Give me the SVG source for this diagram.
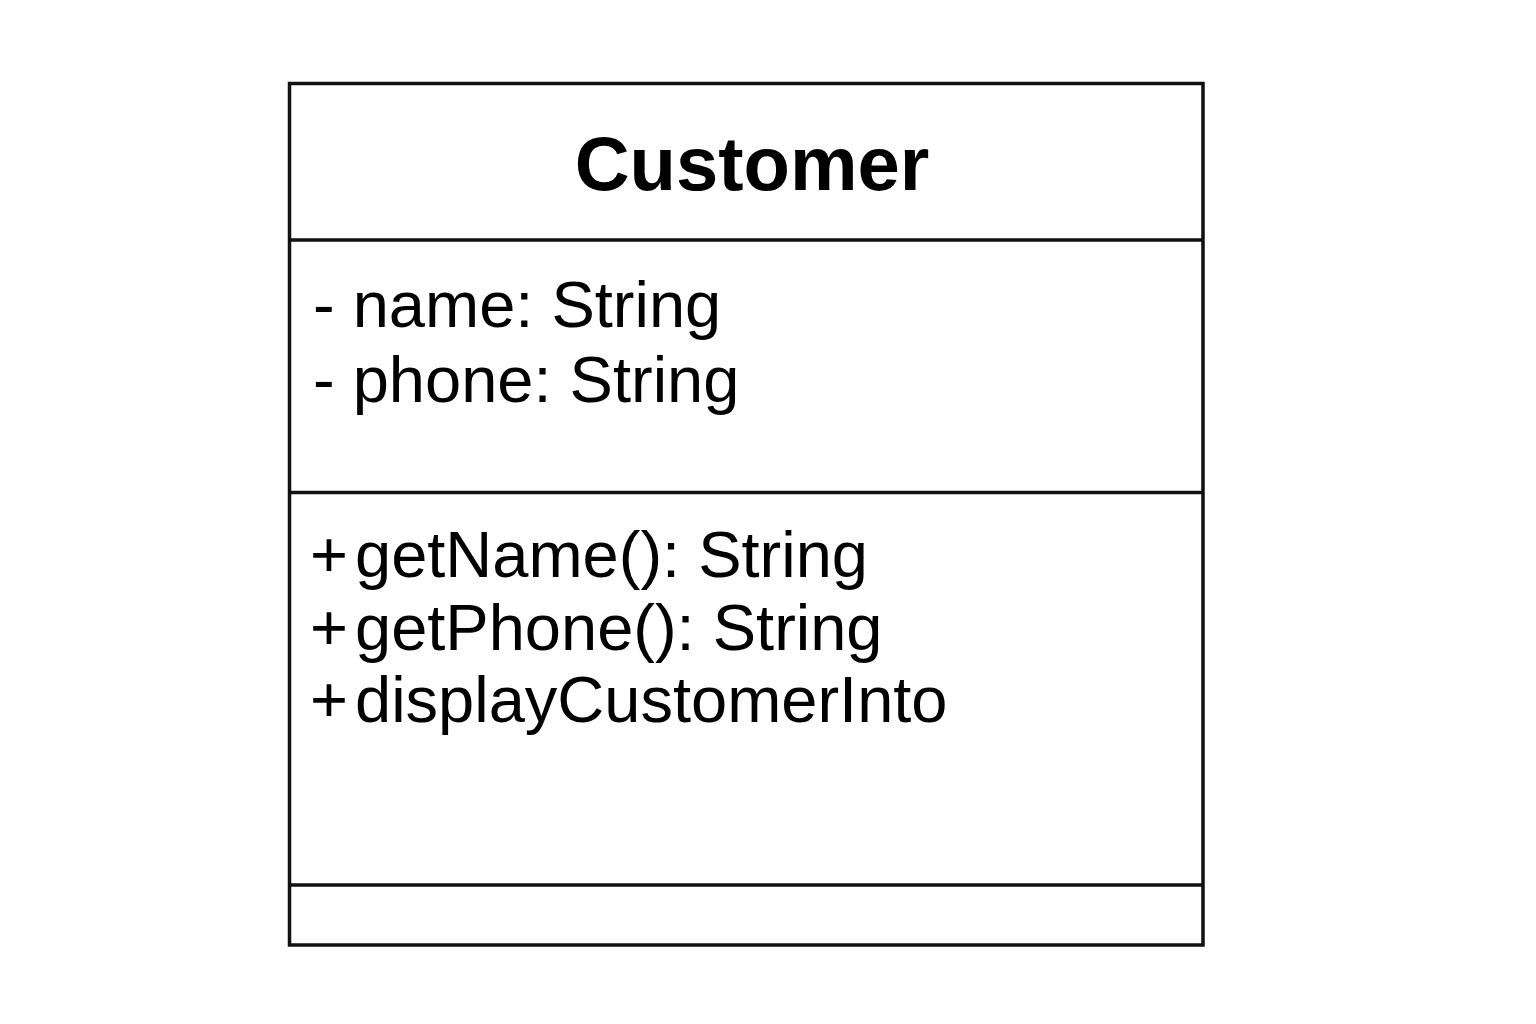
<svg xmlns="http://www.w3.org/2000/svg" width="1536" height="1024" viewBox="0 0 1536 1024">
<style>
.box{fill:#fff;stroke:#111;stroke-width:3.5}
.div{stroke:#111;stroke-width:3.5}
.t{font-family:"Liberation Sans",Arial,sans-serif;fill:#000}
.title{font-size:76px;font-weight:bold}
.m{font-size:65px}
</style>
<rect width="1536" height="1024" fill="#fff"/>
<g id="Customer">
<rect class="box" x="289.5" y="83.5" width="913.5" height="861.5"/>
<line class="div" x1="289.5" y1="240" x2="1203" y2="240"/>
<line class="div" x1="289.5" y1="492.5" x2="1203" y2="492.5"/>
<line class="div" x1="289.5" y1="885" x2="1203" y2="885"/>
<text class="t title" x="752" y="190" text-anchor="middle">Customer</text>
<text class="t m" x="313" y="327">- name: String</text>
<text class="t m" x="313" y="402">- phone: String</text>
<text class="t m" y="577"><tspan x="310">+</tspan><tspan x="355">getName(): String</tspan></text>
<text class="t m" y="650"><tspan x="310">+</tspan><tspan x="355">getPhone(): String</tspan></text>
<text class="t m" y="722"><tspan x="310">+</tspan><tspan x="355">displayCustomerInto</tspan></text>
</g>
<g id="connectors"></g>
</svg>
